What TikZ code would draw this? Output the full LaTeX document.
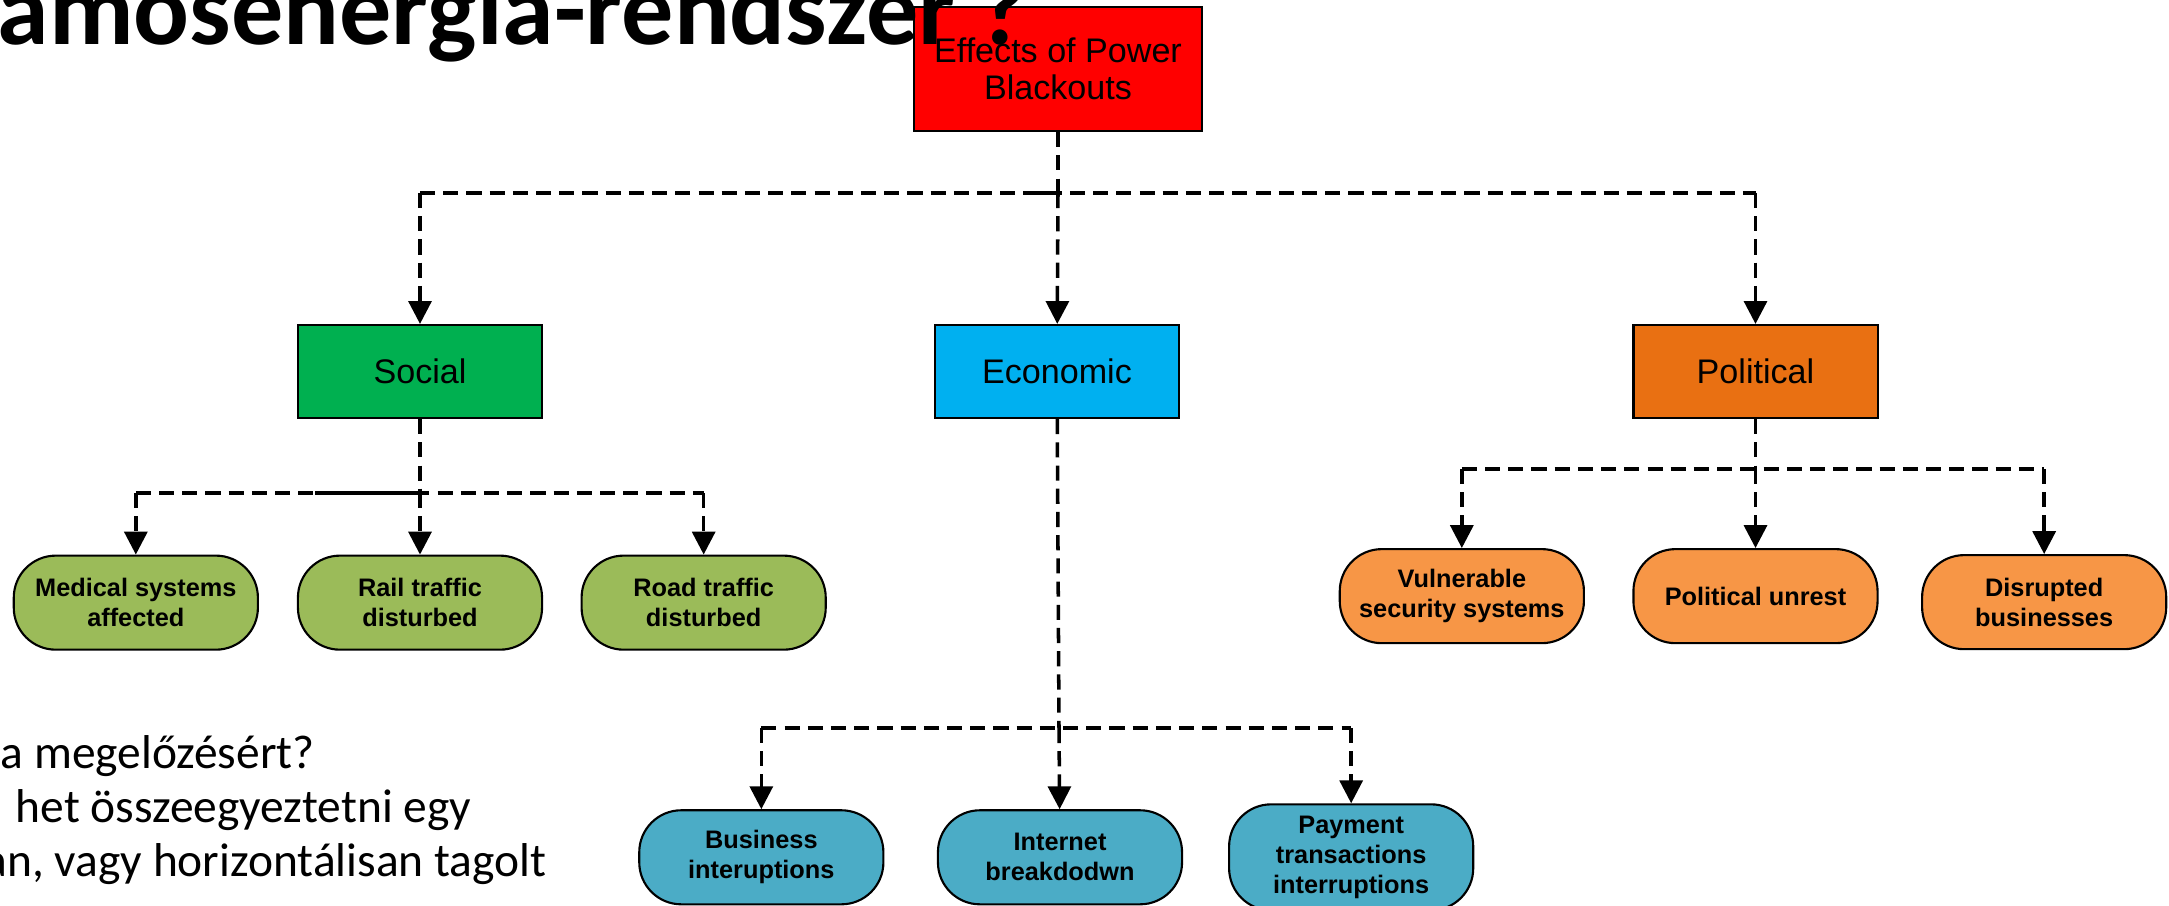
\documentclass[tikz,border=0pt]{standalone}
\usepackage{fontspec}
\setmainfont{Liberation Sans}
\newfontfamily\slidefont{Carlito}
\usetikzlibrary{arrows.meta}

\definecolor{rootred}{RGB}{255,0,0}
\definecolor{socialgreen}{RGB}{0,176,80}
\definecolor{econblue}{RGB}{0,176,240}
\definecolor{polorange}{RGB}{233,112,18}
\definecolor{sociallight}{RGB}{155,187,89}
\definecolor{econlight}{RGB}{75,172,198}
\definecolor{pollight}{RGB}{247,150,70}

\begin{document}
\begin{tikzpicture}[
            x = 0.01cm, y = -0.01cm, % one unit per pixel, y going down
            > = {Triangle[length=6.5pt, width=6.5pt]}, % arrow head style
            shorten > = 0pt, % arrow head touches the node
            link/.style = {dash pattern = on 4.3pt off 2.3pt, line width = 1pt}
        ]

        \tikzstyle{catbox}=[
            draw = black,
            line width = 0.6pt,
            rectangle,
            minimum width = 2.44cm,
            minimum height = 0.93cm,
            align = center,
            font = \fontsize{9.7}{10.5}\selectfont
        ]
        \tikzstyle{pill}=[
            draw = black,
            line width = 0.6pt,
            rectangle,
            rounded corners = 0.42cm,
            minimum width = 2.44cm,
            minimum height = 0.94cm,
            align = center,
            font = \bfseries\fontsize{7.2}{8.5}\selectfont
        ]

        \useasboundingbox (0,0) rectangle (2169,905);

        % slide text behind the chart
        \node (line1) [anchor=base west, inner sep=0] at (0,768) {\slidefont\fontsize{13.5}{15}\selectfont a megelőzésért?};
        \node (line2) [anchor=base west, inner sep=0] at (15,822) {\slidefont\fontsize{13.5}{15}\selectfont het összeegyeztetni egy};
        \node (line3) [anchor=base west, inner sep=0] at (-16,876) {\slidefont\fontsize{13.5}{15}\selectfont an, vagy horizontálisan tagolt};

        \node[catbox, fill = rootred, minimum width = 2.88cm, minimum height = 1.24cm] (root) at (1058,69) {Effects of Power\\Blackouts};

        \node (title) [anchor=base west, inner sep=0] at (-3,44) {\slidefont\bfseries\fontsize{29.6}{30}\selectfont amosenergia-rendszer ?};

        \node[catbox, fill = socialgreen] (social) at (420,371.5) {Social};
        \node[catbox, fill = econblue] (economic) at (1057,371.5) {Economic};
        \node[catbox, fill = polorange] (political) at (1755.5,371.5) {Political};

        \node[pill, fill = sociallight] (rail) [below of = social, node distance = 2.31cm] {Rail traffic\\disturbed};
        \node[pill, fill = sociallight] (medical) [left of = rail, node distance = 2.84cm] {Medical systems\\affected};
        \node[pill, fill = sociallight] (road) [right of = rail, node distance = 2.835cm] {Road traffic\\disturbed};

        \node[pill, fill = econlight] (internet) [below of = economic, node distance = 4.855cm, xshift = 0.03cm] {Internet\\breakdodwn};
        \node[pill, fill = econlight] (business) [left of = internet, node distance = 2.985cm] {Business\\interuptions};
        \node[pill, fill = econlight] (payment) [right of = internet, node distance = 2.91cm] {Payment\\transactions\\interruptions};

        \node[pill, fill = pollight] (unrest) [below of = political, node distance = 2.245cm] {Political unrest};
        \node[pill, fill = pollight] (vulnerable) [left of = unrest, node distance = 2.935cm] {Vulnerable\\security systems};
        \node[pill, fill = pollight] (disrupted) [right of = unrest, node distance = 2.885cm, yshift = -0.06cm] {Disrupted\\businesses};

        \coordinate (topbus) at (1058,193);
        \coordinate (socbus) at (420,493);
        \coordinate (econbus) at (1059,728);
        \coordinate (polbus) at (1755.5,469);

        % root to the three groups
        \draw[link] (root) -- (topbus);
        \draw[link] (social.north |- topbus) -- (political.north |- topbus);
        \draw[line width = 1.2pt] (topbus) -- ++(-35,0);
        \draw[link, ->] (social.north |- topbus) -- (social);
        \draw[link, ->] (topbus) -- (economic);
        \draw[link, ->] (political.north |- topbus) -- (political);

        % social
        \draw[link] (social) -- (socbus);
        \draw[link] (medical.north |- socbus) -- (road.north |- socbus);
        \draw[line width = 1.3pt] (socbus) -- ++(-105,0);
        \draw[link, ->] (medical.north |- socbus) -- (medical);
        \draw[link, ->] (socbus) -- (rail);
        \draw[link, ->] (road.north |- socbus) -- (road);

        % economic
        \draw[link] (economic) -- (econbus);
        \draw[link] (business.north |- econbus) -- (payment.north |- econbus);
        \draw[link, ->] (business.north |- econbus) -- (business);
        \draw[link, ->] (econbus) -- (internet);
        \draw[link, ->] (payment.north |- econbus) -- (payment);

        % political
        \draw[link] (political) -- (polbus);
        \draw[link] (vulnerable.north |- polbus) -- (disrupted.north |- polbus);
        \draw[link, ->] (vulnerable.north |- polbus) -- (vulnerable);
        \draw[link, ->] (polbus) -- (unrest);
        \draw[link, ->] (disrupted.north |- polbus) -- (disrupted);
    \end{tikzpicture}
\end{document}
